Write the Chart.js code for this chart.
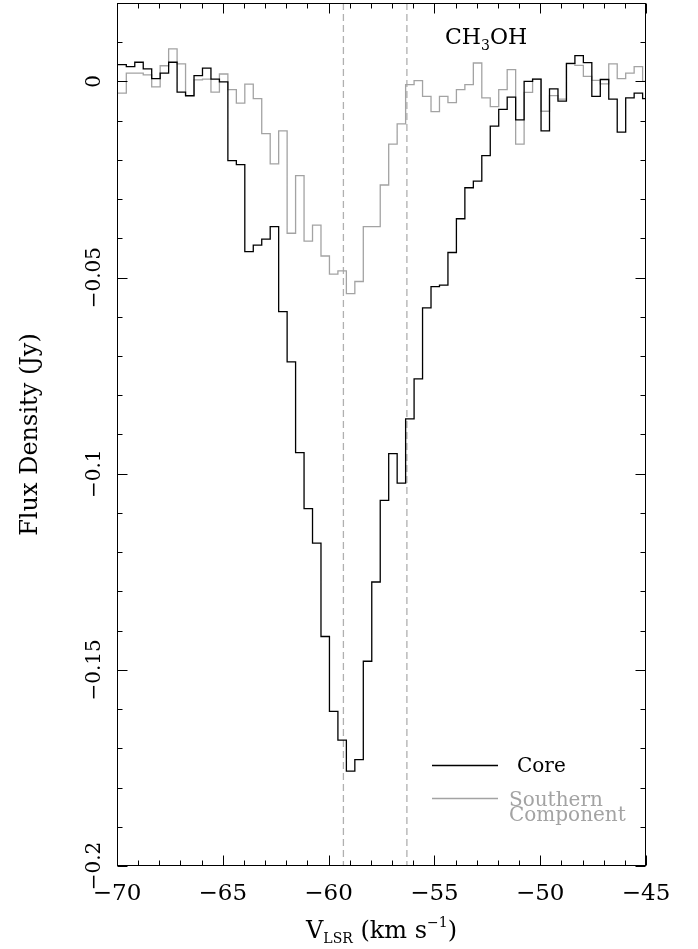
<!DOCTYPE html>
<html>
<head>
<meta charset="utf-8">
<script src="https://cdn.jsdelivr.net/npm/chart.js@4.4.1/dist/chart.umd.min.js"></script>
<style>
  html, body { margin: 0; padding: 0; background: #fff; }
  canvas { display: block; }
</style>
</head>
<body>
<canvas id="spectrum" width="698" height="949"></canvas>
<script>
// channel centres (km/s) and flux densities (Jy)
const velocities = [
  -70.16, -69.76, -69.36, -68.96, -68.56, -68.16, -67.76, -67.36, -66.96, -66.56,
  -66.16, -65.76, -65.36, -64.96, -64.56, -64.16, -63.76, -63.36, -62.96, -62.56,
  -62.16, -61.76, -61.36, -60.96, -60.56, -60.16, -59.76, -59.36, -58.96, -58.56,
  -58.16, -57.76, -57.36, -56.96, -56.56, -56.16, -55.76, -55.36, -54.96, -54.56,
  -54.16, -53.76, -53.36, -52.96, -52.56, -52.16, -51.76, -51.36, -50.96, -50.56,
  -50.16, -49.76, -49.36, -48.96, -48.56, -48.16, -47.76, -47.36, -46.96, -46.56,
  -46.16, -45.76, -45.36, -44.96
];
const coreFlux = [
  0.0043, 0.0043, 0.0038, 0.0049, 0.0032, 0.0007, 0.0021, 0.0049, -0.0027, -0.0036,
  0.0015, 0.0034, 0.0006, -0.0001, -0.0202, -0.0212, -0.0434, -0.0417, -0.0402, -0.0370,
  -0.0587, -0.0715, -0.0946, -0.1089, -0.1177, -0.1415, -0.1606, -0.1679, -0.1758, -0.1729,
  -0.1478, -0.1276, -0.1068, -0.0949, -0.1024, -0.0860, -0.0758, -0.0577, -0.0523, -0.0519,
  -0.0436, -0.0350, -0.0271, -0.0254, -0.0189, -0.0114, -0.0071, -0.0040, -0.0098, 0.0000,
  0.0006, -0.0126, -0.0019, -0.0050, 0.0046, 0.0066, 0.0048, -0.0038, 0.0005, -0.0045,
  -0.0129, -0.0042, -0.0030, -0.0044
];
const southernFlux = [
  -0.0030, -0.0030, 0.0021, 0.0021, 0.0017, -0.0014, 0.0040, 0.0083, 0.0045, -0.0038,
  0.0004, 0.0006, -0.0027, 0.0019, -0.0021, -0.0055, -0.0007, -0.0044, -0.0133, -0.0210,
  -0.0126, -0.0387, -0.0240, -0.0407, -0.0366, -0.0445, -0.0491, -0.0483, -0.0541, -0.0510,
  -0.0370, -0.0370, -0.0264, -0.0160, -0.0108, -0.0008, 0.0002, -0.0038, -0.0077, -0.0038,
  -0.0054, -0.0021, -0.0008, 0.0047, -0.0042, -0.0064, -0.0021, 0.0030, -0.0160, -0.0028,
  0.0006, -0.0076, -0.0036, -0.0045, 0.0045, 0.0041, 0.0013, 0.0003, -0.0006, 0.0045,
  0.0007, 0.0021, 0.0038, 0.0000
];
const markerVelocities = [-59.3, -56.3];
const yTickLabels = [0, -0.05, -0.1, -0.15, -0.2];

const SERIF = '"DejaVu Serif", serif';
const CORE_COLOR = '#000000';
const SOUTH_COLOR = '#a3a3a3';

function fmt(v) {
  return String(Math.round(v * 1000) / 1000).replace('-', '\u2212');
}

// text with sub/superscripts, parts = [[text, size, dy], ...]
function drawParts(ctx, parts, x, baseline, align) {
  let total = 0;
  parts.forEach(p => { ctx.font = p[1] + 'px ' + SERIF; total += ctx.measureText(p[0]).width; });
  let cx = align === 'center' ? x - total / 2 : x;
  ctx.textAlign = 'left';
  ctx.textBaseline = 'alphabetic';
  parts.forEach(p => {
    ctx.font = p[1] + 'px ' + SERIF;
    ctx.fillText(p[0], cx, baseline + p[2]);
    cx += ctx.measureText(p[0]).width;
  });
}

const framePlugin = {
  id: 'frame',
  afterDatasetsDraw(chart) {
    const { ctx, chartArea: a, scales: { x, y } } = chart;
    ctx.save();
    ctx.strokeStyle = '#000';
    ctx.lineWidth = 1;
    const L = Math.round(a.left) + 0.5, R = Math.round(a.right) - 0.5;
    const T = Math.round(a.top) + 0.5, B = Math.round(a.bottom) - 0.5;
    ctx.strokeRect(L, T, R - L, B - T);

    const line = (x1, y1, x2, y2) => {
      ctx.beginPath(); ctx.moveTo(x1, y1); ctx.lineTo(x2, y2); ctx.stroke();
    };
    // inward ticks on all four sides
    for (let v = -70; v <= -45; v++) {
      const px = Math.round(x.getPixelForValue(v)) + 0.5;
      const len = v % 5 === 0 ? 10 : 5;
      line(px, B, px, B - len);
      line(px, T, px, T + len);
    }
    for (let i = 0; i <= 22; i++) {
      const v = 0.02 - i * 0.01;
      const py = Math.round(y.getPixelForValue(v)) + 0.5;
      const len = (i - 2) % 5 === 0 ? 10 : 5;
      line(L, py, L + len, py);
      line(R, py, R - len, py);
    }

    // rotated y tick labels
    ctx.fillStyle = '#000';
    ctx.font = '20px ' + SERIF;
    ctx.textAlign = 'center';
    ctx.textBaseline = 'alphabetic';
    yTickLabels.forEach(v => {
      ctx.save();
      ctx.translate(100, y.getPixelForValue(v));
      ctx.rotate(-Math.PI / 2);
      ctx.fillText(fmt(v), 0, 0);
      ctx.restore();
    });

    // x axis title with subscript and superscript
    drawParts(ctx, [['V', 24, 0], ['LSR', 14, 5], [' (km s', 24, 0], ['\u22121', 14, -11], [')', 24, 0]],
      (a.left + a.right) / 2, 938, 'center');

    // molecule label
    drawParts(ctx, [['CH', 22, 0], ['3', 14, 6], ['OH', 22, 0]], 445, 44, 'left');

    // legend
    ctx.lineWidth = 1.3;
    ctx.strokeStyle = CORE_COLOR;
    line(432, 765.5, 498, 765.5);
    ctx.strokeStyle = SOUTH_COLOR;
    line(432, 798.5, 498, 798.5);
    ctx.font = '20px ' + SERIF;
    ctx.textAlign = 'left';
    ctx.fillStyle = CORE_COLOR;
    ctx.fillText('Core', 517, 772);
    ctx.fillStyle = SOUTH_COLOR;
    ctx.fillText('Southern', 509, 806);
    ctx.fillText('Component', 509, 821);
    ctx.restore();
  }
};

new Chart(document.getElementById('spectrum'), {
  type: 'line',
  data: {
    datasets: [
      {
        label: 'Core',
        data: velocities.map((v, i) => ({ x: v, y: coreFlux[i] })),
        stepped: 'middle',
        borderColor: CORE_COLOR,
        borderWidth: 1.3,
        pointRadius: 0,
        order: 1
      },
      {
        label: 'Southern Component',
        data: velocities.map((v, i) => ({ x: v, y: southernFlux[i] })),
        stepped: 'middle',
        borderColor: SOUTH_COLOR,
        borderWidth: 1.3,
        pointRadius: 0,
        order: 2
      },
      ...markerVelocities.map(v => ({
        data: [{ x: v, y: 0.02 }, { x: v, y: -0.2 }],
        borderColor: '#b0b0b0',
        borderWidth: 1.3,
        borderDash: [7, 4],
        pointRadius: 0,
        order: 3
      }))
    ]
  },
  options: {
    responsive: false,
    animation: false,
    devicePixelRatio: 1,
    layout: { padding: { top: 3, right: 52, left: 0, bottom: 0 } },
    plugins: { legend: { display: false }, tooltip: { enabled: false } },
    scales: {
      x: {
        type: 'linear',
        min: -70,
        max: -45,
        afterFit(scale) { scale.height = 83; },
        grid: { display: false, drawTicks: false },
        border: { display: false },
        ticks: {
          stepSize: 5,
          padding: 14,
          color: '#000',
          font: { family: SERIF, size: 23 },
          callback: v => fmt(v)
        }
      },
      y: {
        min: -0.2,
        max: 0.02,
        afterFit(scale) { scale.width = 117; },
        grid: { display: false, drawTicks: false },
        border: { display: false },
        ticks: { display: false },
        title: {
          display: true,
          text: 'Flux Density (Jy)',
          color: '#000',
          font: { family: SERIF, size: 24 },
          padding: { top: 16, bottom: 0 }
        }
      }
    }
  },
  plugins: [framePlugin]
});
</script>
</body>
</html>
